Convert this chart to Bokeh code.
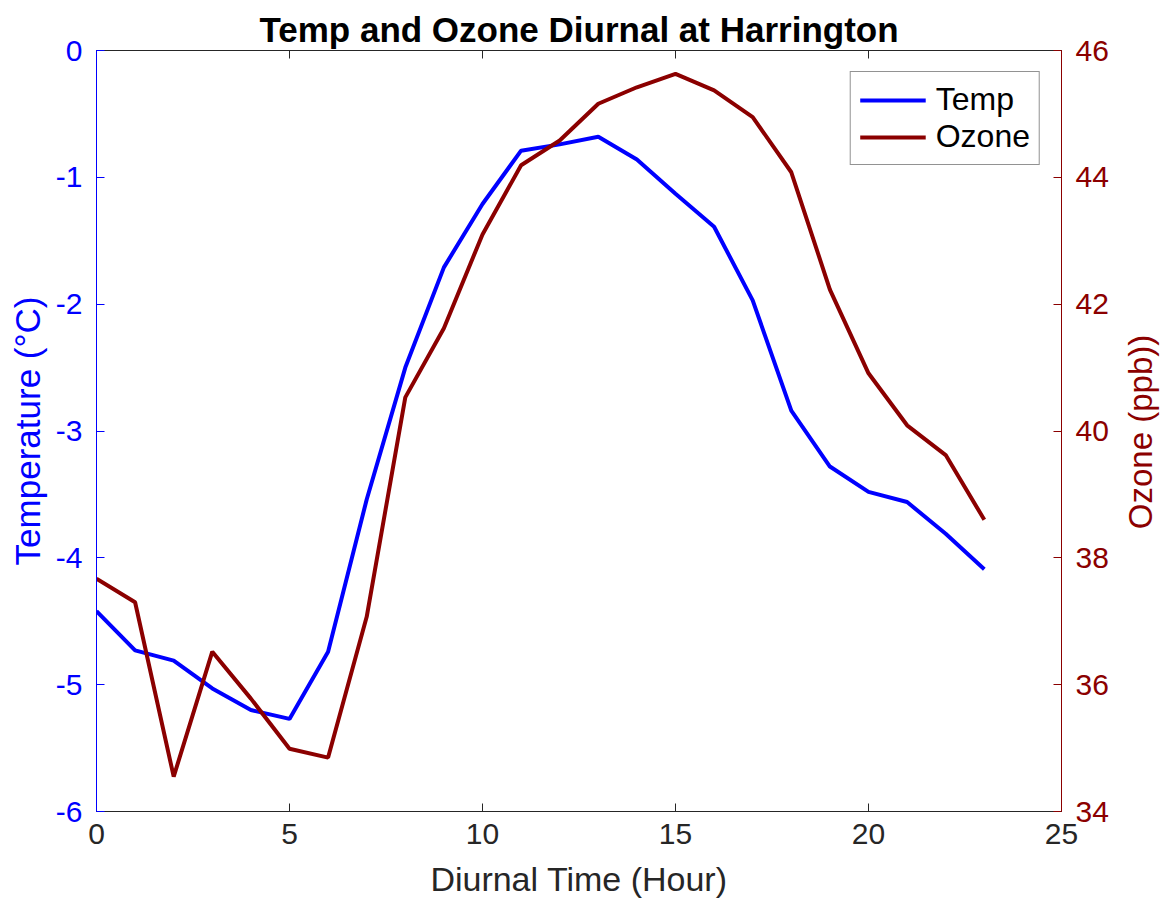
import math
from bokeh.plotting import figure
from bokeh.models import Range1d, LinearAxis, FixedTicker, Legend, LegendItem, Label
from bokeh.embed import file_html
from bokeh.resources import INLINE

hours = list(range(24))
temp = [-4.42, -4.73, -4.81, -5.03, -5.20, -5.27, -4.74, -3.54, -2.50, -1.71,
        -1.21, -0.79, -0.74, -0.68, -0.86, -1.13, -1.39, -1.97, -2.84, -3.28,
        -3.48, -3.56, -3.81, -4.09]
ozone = [37.67, 37.30, 34.55, 36.52, 35.78, 34.99, 34.85, 37.07, 40.53, 41.62,
         43.10, 44.19, 44.58, 45.16, 45.42, 45.63, 45.37, 44.95, 44.08, 42.23,
         40.91, 40.09, 39.62, 38.60]
x_ticks = [0, 5, 10, 15, 20, 25]
temp_ticks = [-6, -5, -4, -3, -2, -1, 0]
ozone_ticks = [34, 36, 38, 40, 42, 44, 46]

TEMP_C = "#0000ff"
OZ_C = "#8b0000"
AX_C = "#262626"
FONT = "Liberation Sans"

W, H = 1160, 900
FL, FR, FT, FB = 96, 1061, 50, 813   # frame edges in canvas pixels
p = figure(width=W, height=H, output_backend="svg", toolbar_location=None,
           x_range=Range1d(0, 25), y_range=Range1d(-6, 0),
           min_border_left=FL, min_border_right=W - FR, min_border_top=FT,
           min_border_bottom=H - FB,
           title="Temp and Ozone Diurnal at Harrington")
p.extra_y_ranges = {"oz": Range1d(34, 46)}
p.grid.visible = False
p.outline_line_color = AX_C
p.outline_line_width = 1
p.background_fill_color = "white"
p.border_fill_color = "white"

p.title.align = "center"
p.title.text_font = FONT
p.title.text_font_size = "35px"
p.title.text_font_style = "bold"
p.title.text_color = "black"
p.title.standoff = 4

# bottom axis
xa = p.xaxis[0]
xa.ticker = FixedTicker(ticks=x_ticks)
xa.axis_label = "Diurnal Time (Hour)"
xa.axis_label_text_font = FONT
xa.axis_label_text_font_size = "34px"
xa.axis_label_text_font_style = "normal"
xa.axis_label_text_color = AX_C
xa.axis_label_standoff = 13
xa.major_label_text_font = FONT
xa.major_label_text_font_size = "30px"
xa.major_label_text_color = AX_C
xa.major_label_standoff = 12
xa.major_tick_in = 8
xa.major_tick_out = 0
xa.minor_tick_line_color = None
xa.axis_line_color = AX_C
xa.major_tick_line_color = AX_C

# top axis: tick marks only (drawn as minor ticks, no labels)
ta = LinearAxis(ticker=FixedTicker(ticks=[], minor_ticks=x_ticks),
                minor_tick_in=8, minor_tick_out=0, major_tick_in=0, major_tick_out=0,
                axis_line_color=AX_C, minor_tick_line_color=AX_C,
                major_label_standoff=0)
p.add_layout(ta, "above")

# left axis
ya = p.yaxis[0]
ya.ticker = FixedTicker(ticks=temp_ticks)
ya.major_label_overrides = {t: str(t) for t in temp_ticks}
ya.axis_label = "Temperature (°C)"
ya.axis_label_text_font = FONT
ya.axis_label_text_font_size = "35px"
ya.axis_label_text_font_style = "normal"
ya.axis_label_text_color = TEMP_C
ya.axis_label_standoff = 6
ya.major_label_text_font = FONT
ya.major_label_text_font_size = "30px"
ya.major_label_text_color = TEMP_C
ya.major_label_standoff = 14
ya.major_tick_in = 8
ya.major_tick_out = 0
ya.minor_tick_line_color = None
ya.axis_line_color = TEMP_C
ya.major_tick_line_color = TEMP_C

# right axis
ra = LinearAxis(y_range_name="oz", ticker=FixedTicker(ticks=ozone_ticks),
                major_label_text_font=FONT, major_label_text_font_size="30px",
                major_label_text_color=OZ_C, major_label_standoff=14,
                major_tick_in=8, major_tick_out=0, minor_tick_line_color=None,
                axis_line_color=OZ_C, major_tick_line_color=OZ_C)
p.add_layout(ra, "right")

# right-hand label, reading bottom-to-top, placed in the right side panel
oz_label = Label(x=1140, y=(FT + FB) / 2, x_units="canvas", y_units="canvas",
                 text="Ozone (ppb))", angle=math.pi / 2, text_align="center",
                 text_baseline="middle", text_font=FONT, text_font_size="33px",
                 text_color=OZ_C)
p.add_layout(oz_label, "right")

r1 = p.line(hours, temp, line_color=TEMP_C, line_width=4)
r2 = p.line(hours, ozone, line_color=OZ_C, line_width=4, y_range_name="oz")

legend = Legend(items=[LegendItem(label="Temp", renderers=[r1]),
                       LegendItem(label="Ozone", renderers=[r2])],
                location="top_right")
legend.margin = 21
legend.padding = 9
legend.spacing = 0
legend.label_text_font = FONT
legend.label_text_font_size = "32px"
legend.label_text_color = "black"
legend.glyph_width = 66
legend.glyph_height = 34
legend.label_height = 34
legend.label_standoff = 10
legend.border_line_color = AX_C
legend.border_line_width = 1
legend.background_fill_alpha = 1.0
p.add_layout(legend)

open("out.html", "w").write(file_html(p, INLINE))
